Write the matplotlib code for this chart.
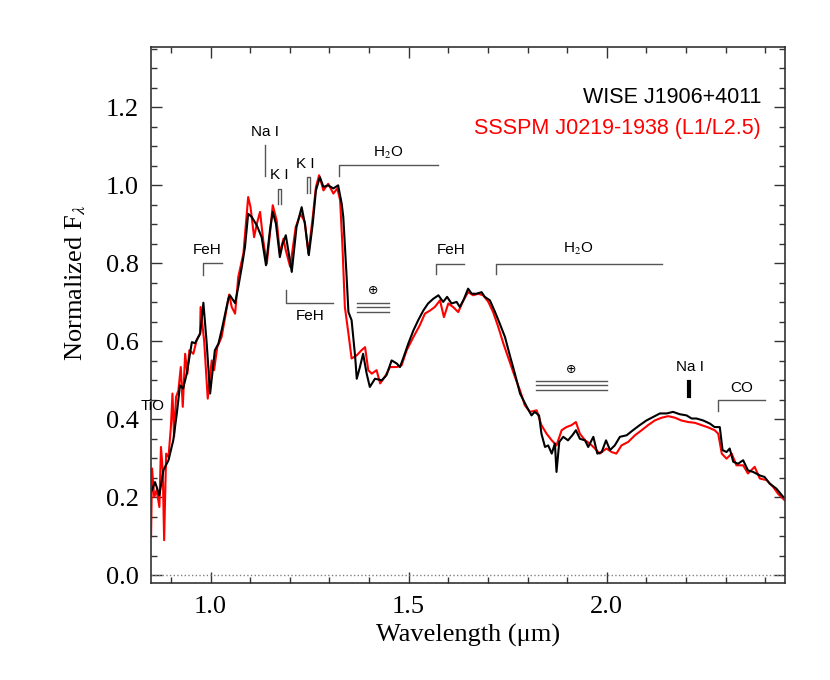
import matplotlib
matplotlib.use('Agg')
import matplotlib.pyplot as plt
from matplotlib.ticker import MultipleLocator

plt.rcParams['mathtext.fontset'] = 'stix'

# WISE J1906+4011 (black)
wl_wise = [0.852, 0.860, 0.871, 0.881, 0.894, 0.906, 0.915, 0.923, 0.931, 0.940,
           0.953, 0.961, 0.974, 0.982, 0.990, 0.999, 1.011, 1.020, 1.028, 1.037,
           1.045, 1.049, 1.062, 1.070, 1.079, 1.087, 1.095, 1.104, 1.117, 1.129,
           1.140, 1.150, 1.157, 1.165, 1.175, 1.182, 1.190, 1.205, 1.217, 1.230,
           1.238, 1.248, 1.258, 1.266, 1.276, 1.285, 1.297, 1.310, 1.322, 1.331,
           1.335, 1.343, 1.348, 1.356, 1.365, 1.369, 1.377, 1.385, 1.394, 1.402,
           1.415, 1.432, 1.444, 1.457, 1.470, 1.478, 1.486, 1.499, 1.512, 1.524,
           1.537, 1.549, 1.562, 1.575, 1.587, 1.597, 1.608, 1.621, 1.629, 1.638,
           1.650, 1.659, 1.671, 1.684, 1.692, 1.705, 1.718, 1.730, 1.743, 1.755,
           1.768, 1.781, 1.798, 1.810, 1.818, 1.829, 1.835, 1.844, 1.852, 1.861,
           1.869, 1.873, 1.880, 1.890, 1.902, 1.913, 1.922, 1.932, 1.945, 1.953,
           1.966, 1.976, 1.987, 1.998, 2.008, 2.020, 2.033, 2.050, 2.066, 2.083,
           2.100, 2.117, 2.134, 2.151, 2.167, 2.184, 2.201, 2.214, 2.226, 2.243,
           2.260, 2.272, 2.285, 2.292, 2.302, 2.310, 2.319, 2.331, 2.344, 2.356,
           2.369, 2.386, 2.398, 2.411, 2.428, 2.445]
fl_wise = [0.218, 0.239, 0.205, 0.269, 0.295, 0.346, 0.415, 0.487, 0.479, 0.517,
           0.598, 0.595, 0.620, 0.699, 0.600, 0.466, 0.577, 0.594, 0.628, 0.671,
           0.709, 0.718, 0.698, 0.739, 0.791, 0.842, 0.927, 0.919, 0.897, 0.867,
           0.795, 0.885, 0.932, 0.902, 0.816, 0.850, 0.872, 0.778, 0.893, 0.944,
           0.902, 0.821, 0.902, 0.987, 1.021, 0.996, 1.000, 0.992, 1.000, 0.953,
           0.919, 0.774, 0.675, 0.654, 0.560, 0.504, 0.534, 0.568, 0.517, 0.483,
           0.504, 0.500, 0.513, 0.551, 0.543, 0.534, 0.556, 0.594, 0.628, 0.654,
           0.679, 0.697, 0.709, 0.718, 0.701, 0.714, 0.697, 0.701, 0.688, 0.705,
           0.735, 0.722, 0.722, 0.726, 0.714, 0.705, 0.675, 0.645, 0.611, 0.565,
           0.517, 0.466, 0.432, 0.410, 0.419, 0.410, 0.363, 0.329, 0.333, 0.312,
           0.338, 0.265, 0.342, 0.355, 0.346, 0.359, 0.372, 0.350, 0.346, 0.329,
           0.355, 0.312, 0.316, 0.346, 0.321, 0.333, 0.355, 0.359, 0.372, 0.385,
           0.397, 0.406, 0.415, 0.415, 0.419, 0.413, 0.410, 0.402, 0.402, 0.397,
           0.389, 0.380, 0.380, 0.321, 0.316, 0.325, 0.291, 0.286, 0.295, 0.269,
           0.265, 0.256, 0.252, 0.235, 0.222, 0.201]

# SSSPM J0219-1938 (red)
wl_sss = [0.850, 0.8525, 0.858, 0.864, 0.871, 0.875, 0.8795, 0.883, 0.888, 0.894,
          0.900, 0.904, 0.908, 0.913, 0.919, 0.925, 0.930, 0.936, 0.9416, 0.9466,
          0.9567, 0.965, 0.9736, 0.975, 0.984, 0.993, 1.003, 1.009, 1.017, 1.028,
          1.037, 1.047, 1.0535, 1.062, 1.070, 1.083, 1.095, 1.101, 1.110, 1.117,
          1.125, 1.133, 1.142, 1.150, 1.157, 1.167, 1.175, 1.184, 1.190, 1.201,
          1.215, 1.227, 1.238, 1.247, 1.258, 1.266, 1.274, 1.285, 1.297, 1.310,
          1.320, 1.327, 1.333, 1.339, 1.348, 1.356, 1.369, 1.381, 1.390, 1.398,
          1.407, 1.419, 1.428, 1.440, 1.453, 1.470, 1.482, 1.495, 1.512, 1.528,
          1.541, 1.554, 1.566, 1.579, 1.589, 1.600, 1.612, 1.625, 1.638, 1.650,
          1.663, 1.675, 1.688, 1.701, 1.713, 1.726, 1.739, 1.755, 1.768, 1.781,
          1.793, 1.806, 1.823, 1.835, 1.848, 1.861, 1.873, 1.886, 1.898, 1.911,
          1.922, 1.932, 1.945, 1.957, 1.970, 1.982, 1.999, 2.012, 2.024, 2.037,
          2.054, 2.071, 2.088, 2.104, 2.121, 2.138, 2.155, 2.172, 2.188, 2.205,
          2.222, 2.239, 2.256, 2.272, 2.281, 2.290, 2.302, 2.315, 2.327, 2.344,
          2.356, 2.373, 2.386, 2.403, 2.420, 2.432, 2.449]
fl_sss = [0.098, 0.274, 0.201, 0.218, 0.175, 0.329, 0.269, 0.090, 0.312, 0.303,
          0.380, 0.466, 0.355, 0.457, 0.474, 0.534, 0.432, 0.568, 0.517, 0.577,
          0.568, 0.603, 0.620, 0.688, 0.600, 0.453, 0.551, 0.526, 0.585, 0.611,
          0.662, 0.720, 0.688, 0.671, 0.765, 0.825, 0.970, 0.944, 0.867, 0.902,
          0.932, 0.859, 0.799, 0.876, 0.949, 0.910, 0.825, 0.863, 0.833, 0.791,
          0.893, 0.927, 0.906, 0.825, 0.919, 0.996, 1.026, 0.987, 1.004, 0.979,
          0.992, 0.962, 0.842, 0.688, 0.620, 0.556, 0.564, 0.577, 0.585, 0.526,
          0.517, 0.526, 0.492, 0.509, 0.534, 0.534, 0.538, 0.577, 0.611, 0.641,
          0.671, 0.679, 0.688, 0.705, 0.662, 0.697, 0.688, 0.675, 0.705, 0.726,
          0.718, 0.722, 0.718, 0.701, 0.675, 0.637, 0.594, 0.547, 0.509, 0.474,
          0.436, 0.419, 0.423, 0.385, 0.363, 0.346, 0.333, 0.372, 0.380, 0.385,
          0.393, 0.363, 0.346, 0.338, 0.325, 0.312, 0.325, 0.316, 0.312, 0.333,
          0.342, 0.359, 0.372, 0.385, 0.397, 0.404, 0.408, 0.404, 0.397, 0.393,
          0.391, 0.385, 0.379, 0.372, 0.363, 0.312, 0.299, 0.312, 0.282, 0.282,
          0.261, 0.278, 0.248, 0.244, 0.226, 0.209, 0.192]

# feature brackets: (x0, x1, y_line, y_end)  -> horizontal line at y_line, drop to y_end at x0
brackets = [(0.980, 1.030, 0.801, 0.771),
            (1.325, 1.575, 1.051, 1.023),
            (1.570, 1.639, 0.799, 0.772),
            (1.720, 2.139, 0.799, 0.772),
            (2.281, 2.400, 0.449, 0.421),
            (1.190, 1.310, 0.699, 0.731)]
bracket_text = [('FeH', 0.9925, 0.833), ('H$_2$O', 1.448, 1.083), ('FeH', 1.606, 0.833),
                ('H$_2$O', 1.929, 0.836), ('CO', 2.340, 0.481), ('FeH', 1.251, 0.665)]
ki_pairs = [(1.1695, 1.177, 0.990, 0.953), (1.243, 1.252, 1.021, 0.981)]
telluric = [(1.369, 1.450, [0.699, 0.688, 0.675], 1.411, 0.731),
            (1.821, 2.001, [0.498, 0.487, 0.474], 1.909, 0.528)]

fig = plt.figure(figsize=(8.3, 6.8), dpi=100)
ax = fig.add_axes([0.182, 0.142, 0.764, 0.789])

ax.plot(wl_sss, fl_sss, color='red', lw=1.5)
ax.plot(wl_wise, fl_wise, color='black', lw=1.5)
ax.axhline(0.0, color='gray', lw=1.0, ls=':')

lc = '#555555'
for x0, x1, yl, ye in brackets:
    ax.plot([x0, x0, x1], [ye, yl, yl], color=lc, lw=1)
for t, x, y in bracket_text:
    ax.text(x, y, t, ha='center', va='center', fontsize=11, family='Liberation Sans')
for x0, x1, yt, yb in ki_pairs:
    ax.plot([x0, x0, x1, x1], [yb, yt, yt, yb], color=lc, lw=1)
ax.text(1.174, 1.026, 'K I', ha='center', va='center', fontsize=11, family='Liberation Sans')
ax.text(1.238, 1.056, 'K I', ha='center', va='center', fontsize=11, family='Liberation Sans')
ax.plot([1.1375, 1.1375], [1.023, 1.103], color=lc, lw=1)
ax.text(1.138, 1.138, 'Na I', ha='center', va='center', fontsize=11, family='Liberation Sans')
ax.plot([2.2075, 2.2075], [0.459, 0.496], color='black', lw=3)
ax.text(2.209, 0.533, 'Na I', ha='center', va='center', fontsize=11, family='Liberation Sans')
for x0, x1, ys, xs, ysym in telluric:
    for y in ys:
        ax.plot([x0, x1], [y, y], color=lc, lw=1)
    ax.text(xs, ysym, '⊕', ha='center', va='center', fontsize=9, family='DejaVu Sans')
ax.text(0.853, 0.433, 'TiO', ha='center', va='center', fontsize=11,
        family='Liberation Sans', clip_on=False)

ax.text(0.9617, 0.905, 'WISE J1906+4011', transform=ax.transAxes, ha='right',
        va='center', fontsize=15.5, family='Liberation Sans', color='black')
ax.text(0.9617, 0.848, 'SSSPM J0219-1938 (L1/L2.5)', transform=ax.transAxes, ha='right',
        va='center', fontsize=15.5, family='Liberation Sans', color='red')

ax.set_xlim(0.85, 2.45)
ax.set_ylim(-0.021, 1.355)
ax.xaxis.set_major_locator(MultipleLocator(0.5))
ax.xaxis.set_minor_locator(MultipleLocator(0.1))
ax.yaxis.set_major_locator(MultipleLocator(0.2))
ax.yaxis.set_minor_locator(MultipleLocator(0.05))
ax.tick_params(which='both', direction='in', top=True, right=True, width=1, colors='#333333')
ax.tick_params(which='major', length=8, labelsize=19, pad=9)
ax.tick_params(which='minor', length=4)
ax.set_xticks([1.0, 1.5, 2.0])
ax.set_xticklabels(['1.0', '1.5', '2.0'])
ax.set_yticks([0.0, 0.2, 0.4, 0.6, 0.8, 1.0, 1.2])
ax.set_yticklabels(['0.0', '0.2', '0.4', '0.6', '0.8', '1.0', '1.2'])
for lab in ax.get_xticklabels() + ax.get_yticklabels():
    lab.set_family('Liberation Serif')
    lab.set_color('black')
for sp in ax.spines.values():
    sp.set_linewidth(1.2)
    sp.set_color('#333333')

ax.set_xlabel('Wavelength (μm)', fontsize=19, family='Liberation Serif')
ax.set_ylabel('Normalized F$_\\lambda$', fontsize=19, family='Liberation Serif')
ax.yaxis.set_label_coords(-0.1, 0.56)

fig.savefig('out.png', dpi=100)
